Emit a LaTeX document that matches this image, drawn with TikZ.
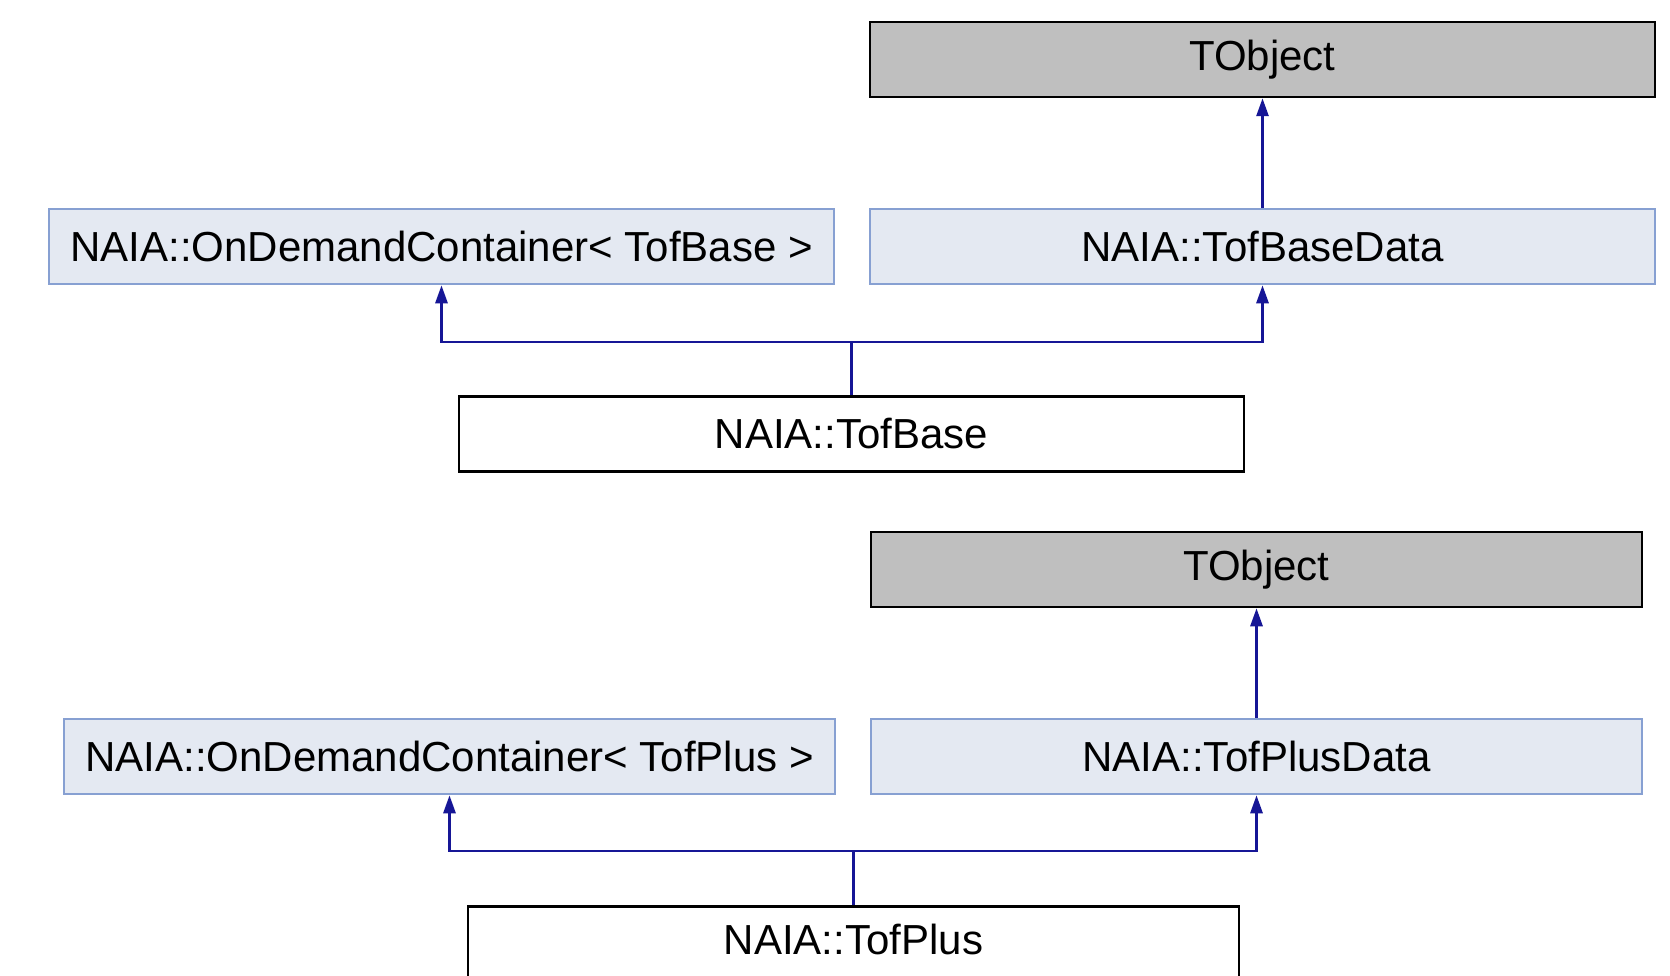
\documentclass[tikz,border=0pt]{standalone}
\usepackage{fontspec}
\setmainfont{Liberation Sans}
\usetikzlibrary{arrows.meta}
\definecolor{edgeblue}{RGB}{22,22,150}
\definecolor{basefill}{RGB}{228,233,242}
\definecolor{baseline}{RGB}{135,160,210}
\definecolor{rootfill}{RGB}{191,191,191}
\begin{document}
\begin{tikzpicture}[x=1pt,y=-1pt,
  cls/.style={draw, rectangle, minimum height=75pt, inner sep=0pt, font=\fontsize{42}{48}\selectfont, line width=2.5pt},
  rootbox/.style={cls, fill=rootfill, draw=black},
  basebox/.style={cls, fill=basefill, draw=baseline},
  leafbox/.style={cls, fill=white, draw=black},
  edge/.style={draw=edgeblue, line width=2.8pt, -{Triangle[length=18pt,width=12pt]}}]
\clip (0,0) rectangle (1670,976);
\fill[white] (0,0) rectangle (1670,976);
% top diagram
\node[rootbox, minimum width=785pt] (to1) at (1262.5,59.5) {TObject};
\node[basebox, minimum width=785pt] (bd) at (1262.5,246.5) {NAIA::TofBaseData};
\node[basebox, minimum width=785pt] (oc1) at (441.5,246.5) {NAIA::OnDemandContainer< TofBase >};
\node[leafbox, minimum width=785pt] (tb) at (851.5,434) {NAIA::TofBase};
\coordinate (j1) at (851.5,342);
\draw[edge] (bd.north) -- (to1.south);
\draw[edge] (tb.north) -- (j1) -| (oc1.south);
\draw[edge] (j1) -| (bd.south);
% bottom diagram
\node[rootbox, minimum width=771pt] (to2) at (1256.5,569.5) {TObject};
\node[basebox, minimum width=771pt] (pd) at (1256.5,756.5) {NAIA::TofPlusData};
\node[basebox, minimum width=771pt] (oc2) at (449.5,756.5) {NAIA::OnDemandContainer< TofPlus >};
\node[leafbox, minimum width=771pt, minimum height=110pt, anchor=north] (tp) at (853.5,905) {};
\node[font=\fontsize{42}{48}\selectfont] (tpl) at (853.5,939) {NAIA::TofPlus};
\coordinate (j2) at (853.5,851);
\draw[edge] (pd.north) -- (to2.south);
\draw[edge] (tp.north) -- (j2) -| (oc2.south);
\draw[edge] (j2) -| (pd.south);
\end{tikzpicture}
\end{document}
